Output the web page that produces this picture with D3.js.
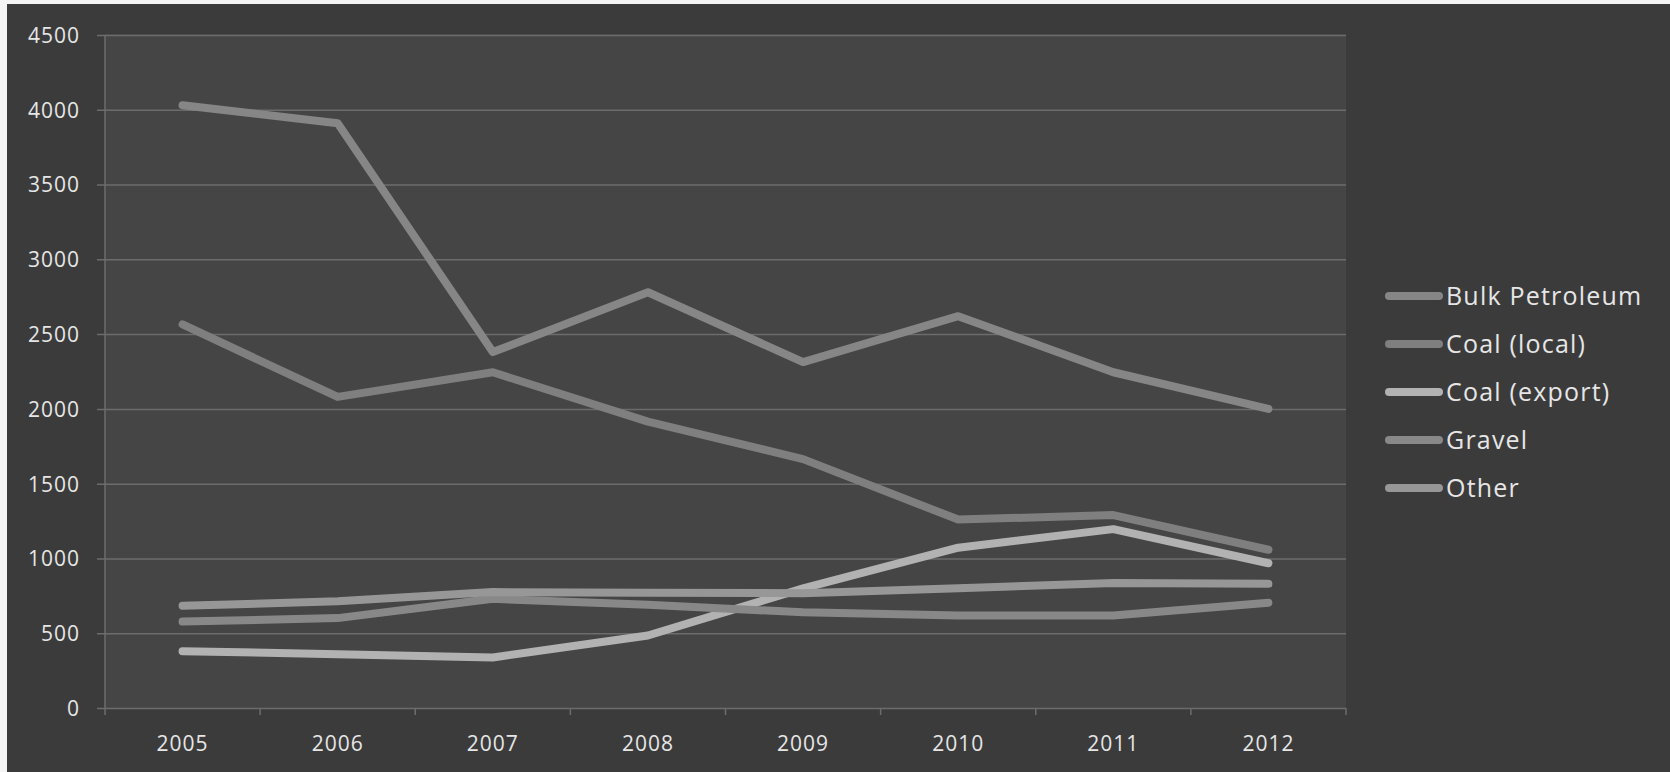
<!DOCTYPE html>
<html>
<head>
<meta charset="utf-8">
<script src="https://cdn.jsdelivr.net/npm/d3@7/dist/d3.min.js"></script>
<style>
  html, body { margin: 0; padding: 0; background: #ffffff; }
  svg { display: block; }
  text { font-family: "Open Sans", "Noto Sans", sans-serif; fill: #e6e6e6; }
</style>
</head>
<body>
<svg id="chart" width="1670" height="772"></svg>
<script>
// ---- data ----
const years = ["2005", "2006", "2007", "2008", "2009", "2010", "2011", "2012"];
const seriesNames = ["Bulk Petroleum", "Coal (local)", "Coal (export)", "Gravel", "Other"];
const bulkPetroleum = [4030, 3910, 2380, 2780, 2313, 2620, 2245, 2000];
const coalLocal     = [2565, 2080, 2245, 1915, 1664, 1260, 1290, 1058];
const coalExport    = [380, 360, 338, 485, 800, 1072, 1196, 968];
const gravel        = [578, 601, 730, 690, 640, 618, 618, 704];
const other         = [684, 713, 775, 770, 768, 800, 836, 830];
const yTicks = [0, 500, 1000, 1500, 2000, 2500, 3000, 3500, 4000, 4500];

const seriesValues = [bulkPetroleum, coalLocal, coalExport, gravel, other];
const lineColors = ["#868686", "#7f7f7f", "#b2b2b2", "#888888", "#979797"];

// ---- layout ----
const W = 1670, H = 772;
const plot = { left: 105, right: 1346, top: 34, bottom: 708 };

const svg = d3.select("#chart");

// outer background (white strip on left/top like the photo)
svg.append("rect").attr("x", 0).attr("y", 0).attr("width", W).attr("height", H).attr("fill", "#f4f4f4");
svg.append("rect").attr("x", 7).attr("y", 4).attr("width", W - 7).attr("height", H - 4).attr("fill", "#3b3b3b");

// plot area
svg.append("rect")
  .attr("x", plot.left).attr("y", plot.top)
  .attr("width", plot.right - plot.left).attr("height", plot.bottom - plot.top)
  .attr("fill", "#454545");

const x = d3.scaleBand().domain(years).range([plot.left, plot.right]).padding(0);
const xc = d => x(d) + x.bandwidth() / 2;
const y = d3.scaleLinear().domain([0, 4500]).range([plot.bottom, plot.top + 1]);

// gridlines + y axis
const yAxis = d3.axisLeft(y).tickValues(yTicks).tickSize(-(plot.right - plot.left) - 8).tickPadding(17).tickFormat(d3.format("d"));
const gy = svg.append("g").attr("transform", `translate(${plot.left - 8},0)`).call(yAxis);
gy.select(".domain").remove();
gy.selectAll(".tick line").attr("stroke", "#6c6c6c").attr("stroke-width", 1.5);
gy.selectAll(".tick text")
  .attr("font-size", 21).attr("letter-spacing", "1px").attr("fill", "#e2e2e2")
  .attr("dy", "0.35em");

// left axis line
svg.append("line")
  .attr("x1", plot.left).attr("x2", plot.left)
  .attr("y1", y(4500)).attr("y2", plot.bottom)
  .attr("stroke", "#6c6c6c").attr("stroke-width", 1.5);

// x axis
const xAxis = d3.axisBottom(x).tickSize(0).tickPadding(28);
const gx = svg.append("g").attr("transform", `translate(0,${plot.bottom})`).call(xAxis);
gx.select(".domain").remove();
gx.selectAll(".tick text")
  .attr("font-size", 21).attr("letter-spacing", "1px").attr("fill", "#e2e2e2");
// category boundary tick marks
svg.append("g").selectAll("line")
  .data(years.concat(["end"]))
  .join("line")
  .attr("x1", (d, i) => plot.left + i * x.bandwidth())
  .attr("x2", (d, i) => plot.left + i * x.bandwidth())
  .attr("y1", plot.bottom).attr("y2", plot.bottom + 7)
  .attr("stroke", "#6c6c6c").attr("stroke-width", 1.5);

// lines
const line = d3.line().x((d, i) => xc(years[i])).y(d => y(d));
svg.append("g").selectAll("path")
  .data(seriesValues)
  .join("path")
  .attr("d", d => line(d))
  .attr("fill", "none")
  .attr("stroke", (d, i) => lineColors[i])
  .attr("stroke-width", 8)
  .attr("stroke-linecap", "round")
  .attr("stroke-linejoin", "round");

// legend
const legend = svg.append("g").attr("transform", "translate(1389,296)");
const items = legend.selectAll("g").data(seriesNames).join("g")
  .attr("transform", (d, i) => `translate(0,${i * 48})`);
items.append("line")
  .attr("x1", 0).attr("x2", 50).attr("y1", 0).attr("y2", 0)
  .attr("stroke", (d, i) => lineColors[i]).attr("stroke-width", 8).attr("stroke-linecap", "round");
items.append("text")
  .attr("x", 57).attr("y", 9)
  .attr("font-size", 25).attr("letter-spacing", "1.2px").attr("fill", "#ececec")
  .text(d => d);
</script>
</body>
</html>
